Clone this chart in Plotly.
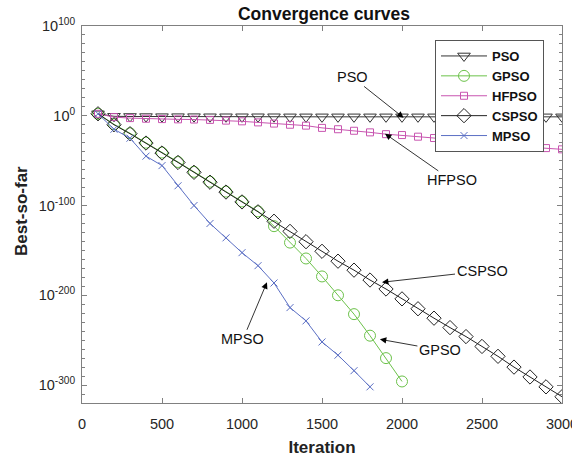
import plotly.graph_objects as go

# iterations (marker every 100)
iters_full = list(range(100, 3001, 100))
iters_gpso = list(range(100, 2001, 100))
iters_mpso = list(range(100, 1801, 100))

# log10(best-so-far)
pso = [2.2, -0.6, -0.8, -0.9, -1.0, -1.0, -1.0, -1.1, -1.1, -1.1, -1.1, -1.1, -1.2, -1.2, -1.2,
       -1.2, -1.2, -1.2, -1.2, -1.2, -1.2, -1.2, -1.2, -1.2, -1.2, -1.2, -1.2, -1.2, -1.2, -1.2]
hfpso = [2.2, -1.5, -2.6, -3.3, -3.7, -4.0, -4.2, -4.6, -5.4, -6.2, -7.4, -8.7, -10.0, -11.0, -13.5,
         -15.0, -16.7, -18.5, -20.5, -21.5, -23.3, -24.8, -27.5, -30.5, -31.5, -33.0, -34.0, -35.0, -36.0, -37.4]
cspso = [2.2, -10, -20, -30.4, -41.5, -52, -63, -74, -85, -96, -107, -117.5, -128.8, -140.3, -151,
         -162, -172, -183, -193, -204, -215, -225.5, -236, -246, -257, -268, -280, -291, -302, -313]
gpso = [2.2, -9.5, -19.5, -30, -41, -51.5, -62.5, -73.5, -84.5, -95.5, -106.5, -123, -141.3, -159, -179,
        -200, -221, -245, -270, -296]
mpso = [2.2, -15, -25, -45, -55.5, -78, -100, -120, -136, -152.5, -167, -186.3, -213.7, -228.5, -252,
        -266.7, -284, -302]

ytick_exp = [-300, -200, -100, 0, 100]
ytick_text = ["10<sup>%d</sup>" % e for e in ytick_exp]
xtick_vals = [0, 500, 1000, 1500, 2000, 2500, 3000]

FONT = "Liberation Sans, Arial"
fig = go.Figure()

def add(name, x, y, color, symbol, size):
    fig.add_trace(go.Scatter(
        x=x, y=y, name="<b>%s</b>" % name, mode="lines+markers",
        line=dict(color=color, width=1),
        marker=dict(symbol=symbol, size=size, color=color,
                    line=dict(color=color, width=1)),
    ))

add("PSO", iters_full, pso, "#333333", "triangle-down-open", 11)
add("GPSO", iters_gpso, gpso, "#6cc24a", "circle-open", 11)
add("HFPSO", iters_full, hfpso, "#c855b0", "square-open", 7)
add("CSPSO", iters_full, cspso, "#222222", "diamond-open", 11)
add("MPSO", iters_mpso, mpso, "#5b6fc4", "x-thin-open", 7)

# annotations: (label, head x, head y, text x, text y)
notes = [
    ("PSO", 2010, -2.2, 1688, 43.3),
    ("HFPSO", 1894, -20, 2312, -72),
    ("CSPSO", 1875, -185.5, 2500, -173),
    ("GPSO", 1862, -249, 2237, -261),
    ("MPSO", 1156, -185.5, 1006, -249),
]
for t, hx, hy, tx, ty in notes:
    fig.add_annotation(x=hx, y=hy, ax=tx, ay=ty, xref="x", yref="y", axref="x", ayref="y",
                       text=t, showarrow=True, arrowhead=2, arrowsize=1.6, arrowwidth=0.8,
                       arrowcolor="black", standoff=0,
                       font=dict(size=14.5, color="#111111", family=FONT))

# y-axis title placed as a rotated annotation
fig.add_annotation(text="<b>Best-so-far</b>", xref="paper", yref="paper",
                   x=(21 - 82) / 480, y=(403 - 211) / 377, xanchor="center", yanchor="middle",
                   textangle=-90, showarrow=False,
                   font=dict(size=17, color="#222222", family=FONT))

axis_common = dict(showline=True, linecolor="#808080", linewidth=1, mirror="allticks",
                   ticks="inside", tickcolor="#808080", ticklen=5, showgrid=False, zeroline=False,
                   automargin=False, ticklabeloverflow="allow",
                   tickfont=dict(size=14.5, color="#262626", family=FONT))

fig.update_layout(
    width=572, height=471,
    margin=dict(l=82, r=10, t=26, b=68),
    paper_bgcolor="white", plot_bgcolor="white",
    title=dict(text="<b>Convergence curves</b>", x=324 / 572, xanchor="center",
               y=1 - 14 / 471, yanchor="middle", yref="container",
               font=dict(size=17.5, color="#111111", family=FONT)),
    xaxis=dict(range=[0, 3000], tickvals=xtick_vals, ticklabelstandoff=8, **axis_common,
               title=dict(text="<b>Iteration</b>", standoff=9,
                          font=dict(size=17, color="#222222", family=FONT))),
    yaxis=dict(range=[-320, 100], tickvals=ytick_exp, ticktext=ytick_text, ticklabelstandoff=3,
               **axis_common,
               minor=dict(tickvals=list(range(-320, 101, 10)), ticks="inside", ticklen=3,
                          tickcolor="#808080")),
    legend=dict(x=(435 - 82) / 480, y=(403 - 40) / 377, xanchor="left", yanchor="top",
                bgcolor="white", bordercolor="#555555", borderwidth=1,
                font=dict(size=13, color="#111111", family=FONT),
                tracegroupgap=0, itemwidth=46),
    showlegend=True,
)

fig.write_html("out.html", config={"displayModeBar": False},
               post_script="document.body.style.margin='0';")
